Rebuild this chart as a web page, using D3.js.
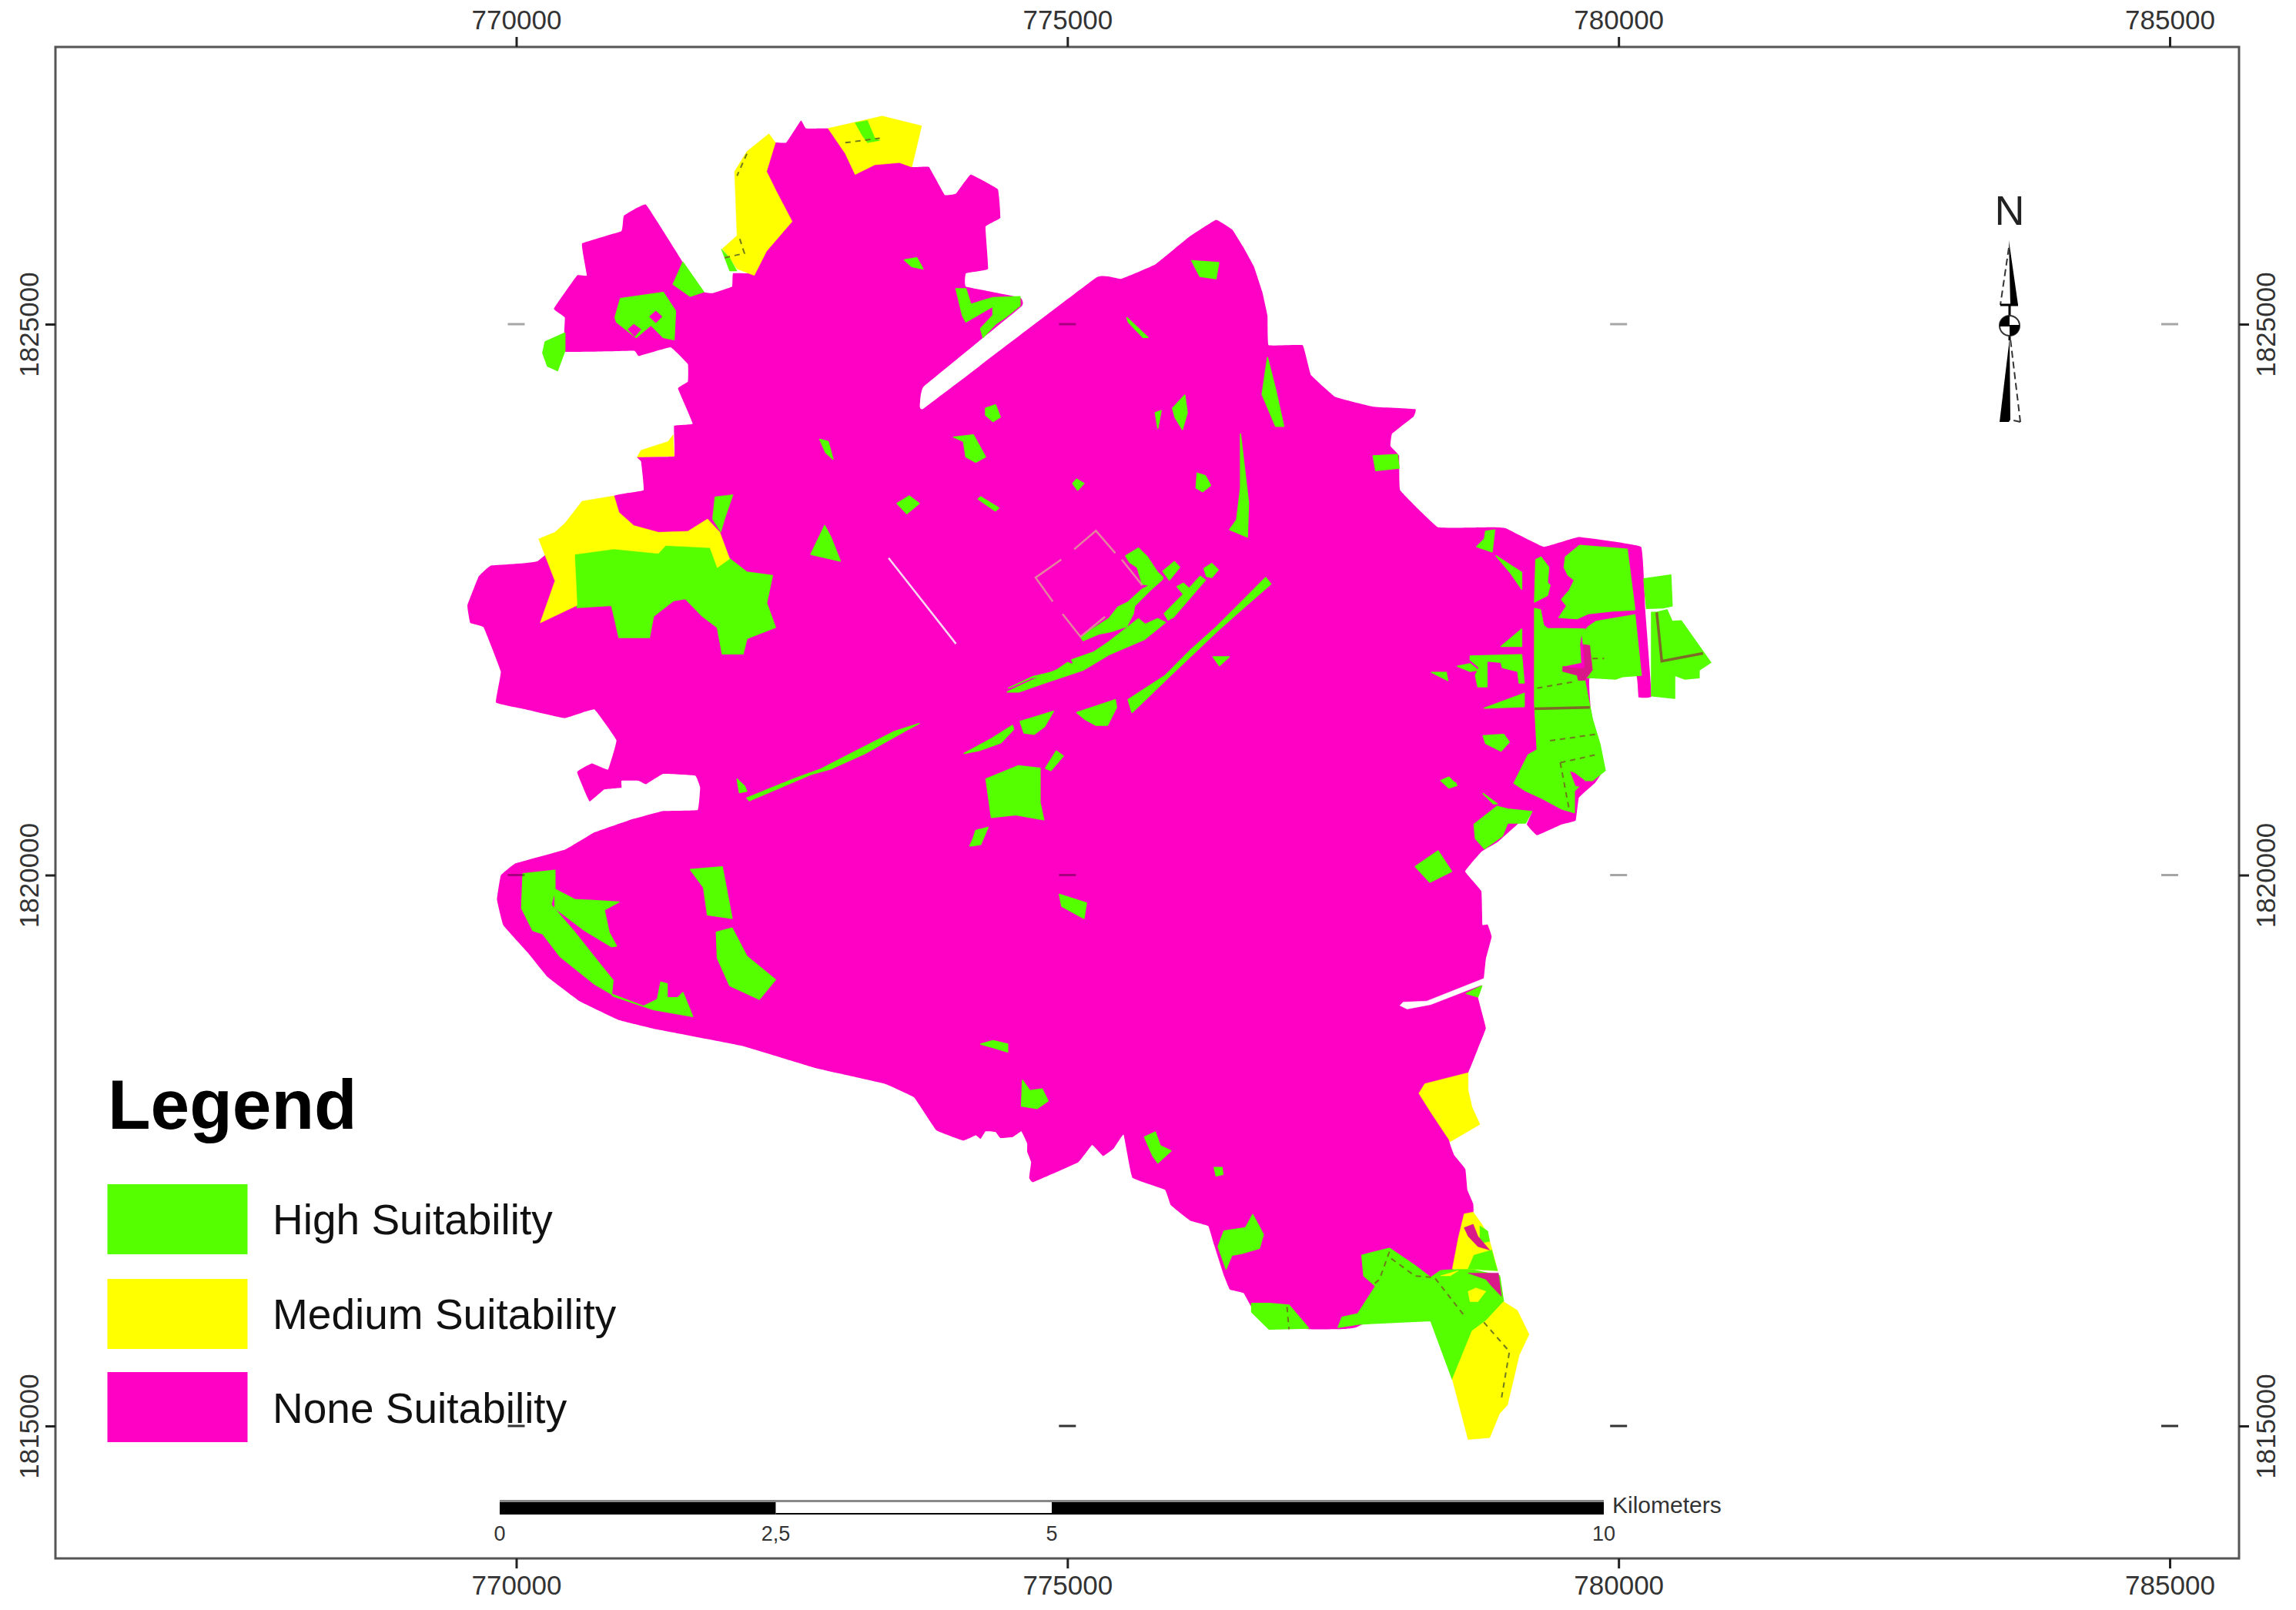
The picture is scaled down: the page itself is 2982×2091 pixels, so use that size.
<!DOCTYPE html>
<html lang="en">
<head>
<meta charset="UTF-8">
<title>Suitability map</title>
<script src="https://d3js.org/d3.v7.min.js"></script>
<style>
    body { margin: 0; background: #fff; }
    text { font-family: "Liberation Sans", Arial, sans-serif; }
</style>
</head>
<body>
<div id="chart"></div>
<script>
// map grid, metres
const eastTicks = [770000, 775000, 780000, 785000];
const northTicks = [1815000, 1820000, 1825000];
const originE = 770000, originN = 1815000;

const legendLabels = ["High Suitability", "Medium Suitability", "None Suitability"];
const legendColors = ["#55ff00", "#ffff00", "#ff00c5"];

const scaleStops = [0, 2.5, 5, 10];
const scaleLabels = ["0", "2,5", "5", "10"];
const scaleFills = ["#000", "#fff", "#000"];

// all shapes below: flat e,n lists, metres east / north of the origin
const noneOutline = [-443,7448,-341,7710,-229,7810,195,7850,887,8441,1155,8493,1132,8754,1097,8795,1432,8802,1432,9076,1601,9096,1467,9417,1557,9478,1557,9638,1400,9791,1110,9711,1066,9759,441,9751,441,10060,342,10141,552,10442,641,10442,597,10731,954,10844,976,10984,1177,11085,1512,10562,1700,10293,1780,10281,1958,10341,1967,10462,2159,10462,2137,10562,2360,10964,2182,11366,2315,11647,2449,11647,2583,11848,2628,11776,2829,11776,2940,11647,3164,11567,3610,11587,3588,11426,3744,11426,3887,11173,3989,11185,4123,11358,4369,11225,4391,10964,4257,10884,4280,10502,4079,10462,4079,10341,4570,10241,4583,10161,3699,9437,3664,9297,3699,9237,5262,10422,5485,10410,5797,10542,6103,10791,6348,10947,6496,10858,6594,10702,6692,10523,6766,10300,6815,10077,6825,9809,7134,9809,7208,9541,7429,9340,7773,9251,8156,9229,8141,9162,7945,9006,7930,8894,8009,8805,8019,8492,8362,8157,8854,8157,8976,8148,9320,7979,9640,8068,10204,7979,10241,7420,10299,6627,10182,6615,10159,6813,9738,6790,9748,6506,9787,6305,9870,5970,9787,5836,9640,5702,9611,5495,9483,5460,9261,5362,9168,5460,9214,5577,8903,5300,8755,5211,8608,5033,8755,4854,8765,4550,8813,4550,8849,4441,8796,4238,8778,4066,8724,3894,8796,3612,8724,3425,8635,3206,8403,2863,8474,2550,8510,2456,8610,2331,8628,2144,8681,2019,8681,1925,8510,1425,8296,1238,7617,894,7456,878,7188,878,6903,956,6671,1081,6599,1206,6474,1238,6421,1363,6331,1644,6278,1816,6117,1863,5939,2003,5885,2144,5589,2253,5510,2644,5421,2519,5324,2450,5224,2550,5099,2394,4689,2213,4653,2253,4671,2394,4635,2488,4635,2566,4582,2675,4503,2622,4391,2613,4347,2669,4257,2675,4213,2606,4168,2638,4056,2591,3811,2684,3610,2981,3342,3106,2717,3247,2048,3450,1244,3606,932,3684,574,3856,284,4075,106,4294,-117,4544,-175,4778,-140,4997,-6,5106,441,5231,708,5387,1021,5497,1333,5581,1646,5591,1668,5794,1624,5903,1333,5919,1177,5825,1110,5856,954,5856,954,5794,798,5778,664,5669,552,5934,686,6014,833,5958,909,6223,708,6504,441,6424,83,6504,-184,6565,-140,6846,-296,7248,-417,7288];

const mediumPatches = [
    [2829,11776,3320,11888,3677,11800,3632,11607,3588,11426,3476,11466,3253,11446,3074,11358,2985,11547],
    [2293,11728,2351,11647,2271,11386,2360,11205,2503,10932,2271,10663,2159,10442,2003,10502,1936,10603,1869,10683,2003,10804,1981,11386,2092,11567],
    [1097,8795,1132,8855,1378,8935,1423,8995,1432,8802],
    [204,8051,351,8111,441,8192,597,8393,887,8441,932,8292,1066,8172,1289,8111,1557,8120,1735,8232,1847,8111,1936,7870,1824,7790,1757,7971,1356,7991,1289,7919,887,7959,530,7911,552,7448,217,7288,351,7670],
    [8188,3019,8242,3106,8635,3206,8635,3050,8670,2894,8742,2738,8474,2581,8421,2659,8296,2847],
    [8599,1925,8681,1941,8760,1831,8813,1738,8849,1613,8902,1409,8635,1425,8492,1425,8546,1706],
    [8492,425,8670,863,8795,956,8956,1128,9081,1050,9188,831,9099,644,8992,191,8920,112,8831,-106,8635,-122]
];

const highPatches = [
    [530,7911,887,7959,1289,7919,1356,7991,1757,7971,1824,7790,1936,7870,2092,7750,2324,7718,2271,7469,2351,7248,2092,7147,2057,7007,1869,7007,1824,7248,1690,7348,1534,7509,1423,7489,1244,7348,1208,7155,932,7155,865,7448,552,7428],
    [896,10060,945,10233,1333,10289,1445,10120,1432,9859,1333,9879,1222,9992,1088,9879,909,10020],
    [1423,10362,1512,10562,1700,10293,1579,10253],
    [262,9839,441,9920,441,9759,374,9578,284,9618,240,9739],
    [3521,10583,3633,10603,3690,10502,3588,10522],
    [3989,10321,4079,10321,4123,10181,4324,10241,4570,10249,4570,10169,4436,10060,4347,10000,4235,9879,4212,9960,4324,10080,4324,10161,4079,10020,4047,10080],
    [4257,9237,4347,9269,4391,9157,4324,9116,4257,9176],
    [3967,8975,4146,8996,4257,8795,4168,8746,4079,8795,4057,8935],
    [5954,9237,6065,9357,6087,9196,6043,9044,5976,9156],
    [5797,9196,5851,9216,5820,9056],
    [2753,8955,2829,8935,2874,8774,2807,8835],
    [3454,8373,3565,8441,3655,8373,3543,8280],
    [4213,8433,4378,8332,4346,8304,4190,8413],
    [5083,8594,5150,8554,5092,8493,5047,8554],
    [2798,8172,2852,8071,2940,7850,2673,7911],
    [5539,10060,5731,9879,5686,9879,5552,10020],
    [6127,10577,6373,10559,6348,10412,6201,10434],
    [6815,9697,6889,9407,6963,9072,6889,9072,6766,9363],
    [6177,8648,6250,8626,6299,8537,6226,8479,6167,8514],
    [6570,9005,6643,8380,6633,8068,6471,8135,6535,8224,6570,8514],
    // rail corridor
    [5528,7898,5644,7968,5726,7887,5819,7747,5866,7700,5749,7630,5679,7642,5633,7793,5563,7840],
    [5866,7758,5971,7845,6018,7793,5924,7677],
    [5679,7595,5866,7688,5749,7583,5609,7443,5598,7373,5539,7257,5399,7210,5283,7187,5143,7128,5119,7163,5283,7268,5376,7327,5458,7432,5551,7478],
    [5994,7618,6052,7649,6099,7607,6052,7548],
    [6239,7782,6309,7828,6368,7770,6309,7700,6262,7712],
    [6204,7712,6251,7677,5959,7338,5913,7315,5878,7373,6099,7595],
    [5819,7327,5889,7292,5702,7140,5376,7000,5143,6860,5003,6813,4793,6743,4559,6662,4454,6662,4676,6767,4956,6883,5189,6977,5376,7082,5563,7210],
    [5376,7117,5644,7327,5702,7280,5516,7163,5399,7082,5283,7000,5073,6895,5038,6953,5236,7023],
    [5026,6918,4898,6825,4676,6790,4466,6697,4688,6802,4886,6849,5003,6930],
    [6799,7700,6846,7642,6566,7397,6356,7210,6146,7012,5889,6767,5586,6475,5551,6592,5889,6813,6122,7047,6356,7257,6554,7455],
    [6321,6981,6468,6981,6379,6900],
    [5084,6475,5434,6592,5446,6522,5364,6359,5259,6359,5154,6417],
    [4571,6394,4874,6487,4793,6347,4699,6277,4606,6289],
    [4064,6104,4310,6238,4501,6359,4513,6323,4396,6200,4200,6130],
    [4801,5970,4899,6126,4963,6081,4850,5948],
    [4261,5872,4556,5992,4752,5970,4752,5657,4786,5501,4531,5546,4310,5523],
    [4114,5265,4187,5412,4261,5412,4212,5278],
    [3655,6376,3431,6304,3074,6123,2762,5962,2539,5881,2092,5700,2115,5675,2673,5913,2851,5962,3164,6103,3521,6304],
    [2003,5872,2070,5809,2092,5762,2025,5747],
    // east side
    [8794,8120,8876,8132,8853,7933,8713,7980,8783,8050],
    [8888,7898,9121,7747,9121,7595,9016,7747],
    [9249,7863,9296,7887,9366,7793,9354,7653,9378,7630,9354,7537,9238,7478],
    [9518,7887,9646,7992,10078,7957,10148,7408,9949,7397,9728,7373,9623,7327,9459,7338,9483,7373,9529,7443,9483,7502,9553,7583,9599,7677,9541,7723,9506,7793],
    [10229,7688,10474,7723,10486,7443,10404,7425,10253,7420],
    [10299,7385,10346,7385,10439,7408,10486,7303,10568,7308,10836,6930,10731,6860,10731,6790,10602,6778,10509,6813,10509,6603,10299,6627],
    [9728,7257,9798,7303,10148,7362,10206,6813,10042,6802,9973,6778,9763,6790,9704,6790,9763,6860,9739,7093,9681,7093,9669,7187],
    [9238,7420,9291,7408,9319,7268,9354,7238,9693,7233,9657,7163,9646,7093,9657,6930,9494,6895,9483,6848,9623,6813,9634,6767,9693,6767,9716,6650,9762,6417,9832,6184,9879,5950,9762,5857,9693,5857,9599,5764,9599,5565,9483,5600,9308,5694,9156,5764,9051,5834,9179,6090,9261,6137,9238,6557],
    [8654,6988,9121,7000,9144,6743,9098,6743,9086,6848,8946,6883,8934,6930,8806,6942,8806,6708,8724,6708,8701,6813,8736,6883,8654,6953],
    [8538,6895,8654,6918,8724,6860,8654,6848],
    [8934,7075,9121,7233,9121,7075],
    [8783,6515,9144,6650,9144,6529],
    [8771,6265,8958,6277,9008,6207,8934,6125,8794,6195],
    [8456,5869,8526,5834,8479,5799,8456,5806],
    [8771,5740,8899,5647,8864,5647],
    [8689,5460,8899,5624,8993,5600,9214,5577,9156,5472,8993,5472,8946,5355,8783,5239,8701,5332],
    [8303,6840,8436,6840,8451,6765],
    [8387,5858,8461,5889,8534,5814,8461,5790],
    [8156,5077,8362,5220,8485,5033,8289,4934],
    [7773,8805,7994,8818,8009,8693,7797,8671],
    [4927,4825,5173,4747,5150,4606,4949,4716],
    // south west lobe
    [61,5012,351,5044,351,4856,316,4731,530,4481,878,4044,865,3919,708,4012,396,4262,240,4466,150,4497,48,4700],
    [351,4872,530,4778,932,4756,798,4684,842,4481,909,4356,865,4350,619,4497,351,4700],
    [865,3919,1155,3809,1280,3872,1311,4028,1369,4013,1369,3888,1467,3888,1512,3934,1601,3716,1244,3778,878,3903],
    [1579,5050,1869,5075,1958,4606,1735,4638,1699,4888],
    [1815,4481,1958,4519,2092,4263,2351,4050,2204,3872,1936,3997,1824,4247],
    [4123,5263,4168,5403,4280,5434,4213,5278],
    [4213,3466,4324,3497,4458,3466,4458,3394,4324,3434],
    [4592,3138,4659,3044,4771,3059,4824,2950,4726,2881,4583,2903],
    [5699,2622,5797,2669,5842,2544,5940,2497,5820,2387,5775,2450],
    [6331,2347,6403,2347,6410,2284,6349,2269],
    // south
    [6367,1628,6421,1769,6617,1800,6681,1919,6778,1738,6742,1613,6581,1566,6492,1550,6439,1425],
    [6671,1113,6831,1113,7010,1097,7188,888,6831,878,6671,1034],
    [7671,1550,7921,1613,8153,1456,8296,1347,8385,1409,8635,1425,8921,1363,8956,1128,8795,956,8670,863,8492,425,8296,956,7653,925,7456,894,7492,988,7635,1019,7796,1269,7689,1363],
    [8617,3925,8760,3994,8724,3894]
];

// green that lies on the yellow areas
const highOnMedium = [
    [3074,11828,3186,11848,3253,11687,3298,11667,3186,11647,3141,11708],
    [1860,10683,1936,10603,2003,10482,1936,10482],
    [1780,8232,1802,8433,1967,8453,1891,8232,1856,8111],
    [8688,1550,8849,1597,8902,1409,8635,1425],
    [8742,1816,8813,1769,8831,1675,8742,1659]
];
const mediumSpecks = [
    [8635,1222,8706,1253,8796,1222,8724,1128,8653,1128],
    [8385,1363,8546,1409,8474,1363]
];
const noneHoles = [
    [1266,10120,1324,10068,1266,10012,1208,10068],
    [1066,10000,1132,9952,1075,9887,1012,9952],
    [9564,5939,9599,5927,9693,5857,9681,5799,9611,5810]
];
const crimsonStrips = [
    [8599,1800,8681,1831,8724,1722,8831,1597,8724,1628,8635,1722],
    [8635,1388,8910,1388,8938,1175,8849,1269,8796,1331],
    [9681,7093,9739,7082,9763,6860,9693,6767,9634,6767,9623,6813,9494,6848,9494,6895,9657,6872,9693,6883]
];
const whiteGaps = [
    [8850,4090,8850,4040,8296,3825,8082,3784,8017,3816,8046,3847,8260,3856]
];

const solidLines = [
    [9238,6510,9739,6522],
    [10346,7385,10392,6942,10766,7012]
];
const dashedLines = [
    [9261,6697,9599,6755],
    [9378,6219,9786,6277],
    [9471,6020,9786,6090],
    [9471,6020,9553,5589],
    [9763,6965,9868,6965],
    [7921,1581,7831,1331,7760,1269],
    [7938,1519,8153,1362,8331,1347,8599,1003],
    [8778,941,9010,675,8938,253],
    [6992,1081,7010,878],
    [2985,11647,3298,11688],
    [2092,11547,2003,11346],
    [1891,10603,2070,10643,2025,10783]
];
const parcelLines = [
    [5061,7957,5259,8125,5434,7922],
    [4944,7863,4711,7700,4867,7483],
    [4956,7369,5119,7163,5341,7345],
    [5493,7863,5679,7630]
];
const whiteLine = [3378,7878,3989,7099];

const width = 2982, height = 2091;
const frame = { left: 72, right: 2908, top: 61, bottom: 2024 };

const x = d3.scaleLinear().domain([770000, 785000]).range([670.5, 2818]);
const y = d3.scaleLinear().domain([1815000, 1825000]).range([1852, 421]);
const km = d3.scaleLinear().domain([0, 10]).range([649, 2083]);

const svg = d3.select("#chart").append("svg")
    .attr("width", width)
    .attr("height", height)
    .style("display", "block");

svg.append("rect").attr("width", width).attr("height", height).attr("fill", "#fff");

// flat list -> [[e,n],...]
const toPoints = flat => d3.range(0, flat.length, 2).map(i => [flat[i], flat[i + 1]]);
const line = d3.line().x(d => x(originE + d[0])).y(d => y(originN + d[1]));
// outline only gets a light rounding, the edges in the map are mostly angular
const smooth = d3.line().x(d => x(originE + d[0])).y(d => y(originN + d[1]))
    .curve(d3.curveCardinalClosed.tension(0.8));
const ring = flat => line(toPoints(flat)) + "Z";
const open = flat => line(toPoints(flat));

const map = svg.append("g");

map.append("path")
    .attr("d", smooth(toPoints(noneOutline)))
    .attr("fill", legendColors[2]);

function fillShapes(shapes, color, sw = 0.6) {
    map.append("g").selectAll("path")
        .data(shapes)
        .join("path")
        .attr("d", ring)
        .attr("fill", color)
        .attr("stroke", color)
        .attr("stroke-width", sw)
        .attr("stroke-linejoin", "round");
}

fillShapes(highPatches, legendColors[0], 1.5);
fillShapes(mediumPatches, legendColors[1]);
fillShapes(highOnMedium, legendColors[0]);
fillShapes(mediumSpecks, legendColors[1]);
fillShapes(noneHoles, legendColors[2]);
fillShapes(crimsonStrips, "#d9188a");
fillShapes(whiteGaps, "#fff");

function drawLines(lines, color, w, dash) {
    map.append("g").selectAll("path")
        .data(lines)
        .join("path")
        .attr("d", open)
        .attr("fill", "none")
        .attr("stroke", color)
        .attr("stroke-width", w)
        .attr("stroke-dasharray", dash);
}

drawLines(solidLines, "#7d6a28", 3.5, null);
drawLines(dashedLines, "#6f7a1c", 2, "7 6");
drawLines(parcelLines, "#e2849e", 2.5, null);
drawLines([whiteLine], "#fbd9f3", 2.5, null);

// small grid marks inside the frame
const gridMarks = d3.cross(eastTicks, northTicks);
svg.append("g").selectAll("rect")
    .data(gridMarks)
    .join("rect")
    .attr("x", d => x(d[0]) - 11)
    .attr("y", d => y(d[1]) - 1.5)
    .attr("width", 22)
    .attr("height", 3)
    .attr("fill", "#000")
    .attr("opacity", d => (d[1] === 1815000 ? 0.8 : 0.35));

// frame and axes
svg.append("rect")
    .attr("x", frame.left)
    .attr("y", frame.top)
    .attr("width", frame.right - frame.left)
    .attr("height", frame.bottom - frame.top)
    .attr("fill", "none")
    .attr("stroke", "#555")
    .attr("stroke-width", 3);

function styleAxis(g) {
    g.select(".domain").remove();
    g.selectAll("line").attr("stroke", "#222").attr("stroke-width", 3);
    g.selectAll("text")
        .attr("font-family", "'Liberation Sans', Arial, sans-serif")
        .attr("font-size", 35)
        .attr("fill", "#333")
        .attr("dy", 0)
        .attr("text-anchor", "middle");
}

const fmt = d3.format("d");

svg.append("g")
    .attr("transform", `translate(0,${frame.top})`)
    .call(d3.axisTop(x).tickValues(eastTicks).tickFormat(fmt).tickSize(13))
    .call(styleAxis)
    .call(g => g.selectAll("text").attr("y", -23));

svg.append("g")
    .attr("transform", `translate(0,${frame.bottom})`)
    .call(d3.axisBottom(x).tickValues(eastTicks).tickFormat(fmt).tickSize(13))
    .call(styleAxis)
    .call(g => g.selectAll("text").attr("y", 47));

svg.append("g")
    .attr("transform", `translate(${frame.left},0)`)
    .call(d3.axisLeft(y).tickValues(northTicks).tickFormat(fmt).tickSize(13))
    .call(styleAxis)
    .call(g => g.selectAll("text").attr("x", 0).attr("y", 0)
        .attr("transform", "translate(-22,0) rotate(-90)"));

svg.append("g")
    .attr("transform", `translate(${frame.right},0)`)
    .call(d3.axisRight(y).tickValues(northTicks).tickFormat(fmt).tickSize(13))
    .call(styleAxis)
    .call(g => g.selectAll("text").attr("x", 0).attr("y", 0)
        .attr("transform", "translate(47,0) rotate(-90)"));

// legend
const legend = svg.append("g");
legend.append("text")
    .attr("x", 140)
    .attr("y", 1466)
    .attr("font-size", 91)
    .attr("font-weight", "bold")
    .attr("fill", "#000")
    .text("Legend");

const swatchTop = [1538, 1661, 1782];
const labelBase = [1603, 1726, 1848];
legend.selectAll("rect")
    .data(legendLabels)
    .join("rect")
    .attr("x", 139.5)
    .attr("y", (d, i) => swatchTop[i])
    .attr("width", 182)
    .attr("height", 91)
    .attr("fill", (d, i) => legendColors[i]);

legend.selectAll("text.item")
    .data(legendLabels)
    .join("text")
    .attr("class", "item")
    .attr("x", 354)
    .attr("y", (d, i) => labelBase[i])
    .attr("font-size", 55)
    .attr("fill", "#111")
    .text(d => d);

// scale bar
const bar = svg.append("g");
bar.append("rect")
    .attr("x", km(0)).attr("y", 1948)
    .attr("width", km(10) - km(0)).attr("height", 3)
    .attr("fill", "#888");
bar.selectAll("rect.seg")
    .data(d3.pairs(scaleStops))
    .join("rect")
    .attr("class", "seg")
    .attr("x", d => km(d[0]))
    .attr("y", 1951)
    .attr("width", d => km(d[1]) - km(d[0]))
    .attr("height", 16)
    .attr("fill", "#000");
bar.selectAll("rect.fill")
    .data(d3.pairs(scaleStops))
    .join("rect")
    .attr("class", "fill")
    .attr("x", d => km(d[0]))
    .attr("y", 1951)
    .attr("width", d => km(d[1]) - km(d[0]))
    .attr("height", 14)
    .attr("fill", (d, i) => scaleFills[i]);
bar.selectAll("text.stop")
    .data(scaleStops)
    .join("text")
    .attr("class", "stop")
    .attr("x", d => km(d))
    .attr("y", 2001)
    .attr("text-anchor", "middle")
    .attr("font-size", 27)
    .attr("fill", "#333")
    .text((d, i) => scaleLabels[i]);
bar.append("text")
    .attr("x", 2094)
    .attr("y", 1965)
    .attr("font-size", 30)
    .attr("fill", "#333")
    .text("Kilometers");

// north arrow
const north = svg.append("g").attr("transform", "translate(2610,0)");
north.append("text")
    .attr("y", 292)
    .attr("text-anchor", "middle")
    .attr("font-size", 54)
    .attr("fill", "#222")
    .text("N");
north.append("path").attr("d", "M-1,312L11,396L1,396Z").attr("fill", "#000");
north.append("path").attr("d", "M-1,548L-13,548L0,440L1,545Z").attr("fill", "#000");
north.append("path").attr("d", "M-1,322L-12,396M14,548L1,440M14,548L1,545")
    .attr("fill", "none").attr("stroke", "#333").attr("stroke-width", 2).attr("stroke-dasharray", "9 5");
north.append("path").attr("d", "M-12,396L11,396M0,396L0,412M0,434L0,442")
    .attr("fill", "none").attr("stroke", "#000").attr("stroke-width", 3);
north.append("circle").attr("cy", 423).attr("r", 13).attr("fill", "#fff").attr("stroke", "#333").attr("stroke-width", 2);
north.append("path").attr("d", "M-13,423A13,13 0 0 1 0,410L0,423Z").attr("fill", "#000");
north.append("path").attr("d", "M13,423A13,13 0 0 1 0,436L0,423Z").attr("fill", "#000");
north.append("path").attr("d", "M-13,423L13,423").attr("stroke", "#000").attr("stroke-width", 2);
</script>
</body>
</html>
